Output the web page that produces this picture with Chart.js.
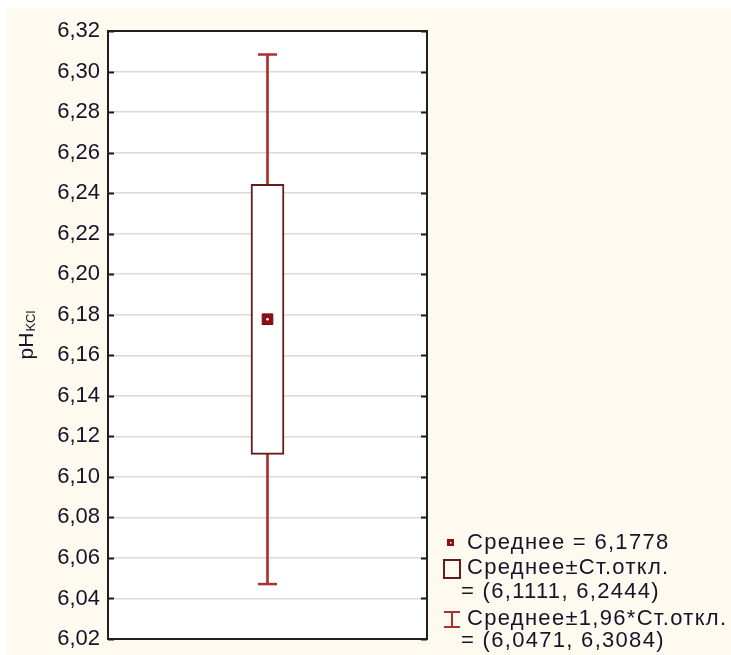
<!DOCTYPE html>
<html>
<head>
<meta charset="utf-8">
<script src="https://cdn.jsdelivr.net/npm/chart.js@4.4.1/dist/chart.umd.min.js"></script>
<style>
  html, body { margin: 0; padding: 0; background: #ffffff; }
  #wrap { width: 731px; height: 655px; position: relative; }
</style>
</head>
<body>
<div id="wrap"><canvas id="chart"></canvas></div>
<script>
// данные — pHKCl, среднее и интервалы
const categories = ['pHKCl'];
const means  = [6.1778];
const sdLow  = [6.1111];
const sdHigh = [6.2444];
const ciLow  = [6.0471];
const ciHigh = [6.3084];
const yMin = 6.02, yMax = 6.32, yStep = 0.02;

const FONT = '"Liberation Sans", Arial, sans-serif';
const fmt = (v, d) => v.toFixed(d).replace('.', ',');

const legendLines = [
    { icon: 'mean', text: `Среднее = ${fmt(means[0], 4)}` },
    { icon: 'box',  text: 'Среднее±Ст.откл.' },
    { icon: null,   text: `= (${fmt(sdLow[0], 4)}, ${fmt(sdHigh[0], 4)})` },
    { icon: 'ci',   text: 'Среднее±1,96*Ст.откл.' },
    { icon: null,   text: `= (${fmt(ciLow[0], 4)}, ${fmt(ciHigh[0], 4)})` }
];

const WHISKER = '#a8302f';
const BOXLINE = '#641b1b';
const MEAN    = '#8e0f0f';

// фон, рамка, внутренние засечки, подпись оси и легенда
const decor = {
    id: 'decor',
    beforeDraw(chart) {
        const ctx = chart.ctx;
        ctx.save();
        ctx.fillStyle = '#fffaf0';
        ctx.fillRect(6, 8, chart.width - 6, chart.height - 8);
        const a = chart.chartArea;
        ctx.fillStyle = '#ffffff';
        ctx.fillRect(a.left, a.top, a.right - a.left, a.bottom - a.top);
        ctx.restore();
    },
    afterDraw(chart) {
        const ctx = chart.ctx;
        const a = chart.chartArea;
        const y = chart.scales.y;
        ctx.save();
        // засечки внутрь
        ctx.strokeStyle = '#1a1a1a';
        ctx.lineWidth = 2;
        y.ticks.forEach(t => {
            const py = Math.round(y.getPixelForValue(t.value)) + 0.5;
            ctx.beginPath();
            ctx.moveTo(a.left, py); ctx.lineTo(a.left + 6, py);
            ctx.moveTo(a.right - 6, py); ctx.lineTo(a.right, py);
            ctx.stroke();
        });
        // рамка
        ctx.strokeStyle = '#1f1f1f';
        ctx.lineWidth = 2;
        ctx.strokeRect(a.left, a.top, a.right - a.left, a.bottom - a.top);

        // подпись оси Y: pH + KCl
        ctx.translate(33, (a.top + a.bottom) / 2);
        ctx.rotate(-Math.PI / 2);
        ctx.fillStyle = '#141428';
        ctx.textBaseline = 'alphabetic';
        ctx.font = `21px ${FONT}`;
        const w1 = ctx.measureText('pH').width;
        ctx.font = `13px ${FONT}`;
        const w2 = ctx.measureText('KCl').width;
        const x0 = -(w1 + w2 + 1) / 2;
        ctx.font = `21px ${FONT}`;
        ctx.fillText('pH', x0, 0);
        ctx.font = `13px ${FONT}`;
        ctx.fillText('KCl', x0 + w1 + 1, 2);
        ctx.setTransform(1, 0, 0, 1, 0, 0);
        ctx.restore();

        // легенда
        ctx.save();
        const rowY = [543, 568, 592, 619, 641];
        ctx.font = `22px ${FONT}`;
        ctx.letterSpacing = '1.3px';
        ctx.textBaseline = 'middle';
        legendLines.forEach((ln, i) => {
            const cy = rowY[i];
            ctx.fillStyle = '#141428';
            ctx.fillText(ln.text, ln.icon ? 467 : 461, cy);
            if (ln.icon === 'mean') {
                ctx.fillStyle = MEAN;
                ctx.fillRect(447, cy - 4, 7, 7);
                ctx.fillStyle = '#ffffff';
                ctx.fillRect(450, cy - 1, 1.5, 1.5);
            } else if (ln.icon === 'box') {
                ctx.strokeStyle = BOXLINE;
                ctx.lineWidth = 2;
                ctx.strokeRect(444, cy - 8, 16, 18);
            } else if (ln.icon === 'ci') {
                ctx.strokeStyle = WHISKER;
                ctx.lineWidth = 2;
                ctx.beginPath();
                ctx.moveTo(444, cy - 7); ctx.lineTo(460, cy - 7);
                ctx.moveTo(452, cy - 7); ctx.lineTo(452, cy + 8);
                ctx.moveTo(444, cy + 8); ctx.lineTo(460, cy + 8);
                ctx.stroke();
            }
        });
        ctx.restore();
    }
};

new Chart(document.getElementById('chart'), {
    type: 'bar',
    data: {
        labels: categories,
        datasets: [
            {   // среднее ± 1,96*ст.откл. — вертикальный ус
                type: 'bar',
                data: categories.map((c, i) => [ciLow[i], ciHigh[i]]),
                backgroundColor: WHISKER,
                borderWidth: 0,
                barThickness: 2,
                grouped: false,
                order: 3
            },
            {   // среднее ± ст.откл. — коробка
                type: 'bar',
                data: categories.map((c, i) => [sdLow[i], sdHigh[i]]),
                backgroundColor: '#ffffff',
                borderColor: BOXLINE,
                borderWidth: 2,
                borderSkipped: false,
                barThickness: 33,
                grouped: false,
                order: 2
            },
            {   // верхняя засечка уса
                type: 'line',
                data: ciHigh,
                showLine: false,
                pointStyle: 'line',
                pointRadius: 9.5,
                pointBorderWidth: 2.5,
                pointBorderColor: WHISKER,
                order: 1
            },
            {   // нижняя засечка уса
                type: 'line',
                data: ciLow,
                showLine: false,
                pointStyle: 'line',
                pointRadius: 9.5,
                pointBorderWidth: 2.5,
                pointBorderColor: WHISKER,
                order: 1
            },
            {   // среднее
                type: 'line',
                data: means,
                showLine: false,
                pointStyle: 'rect',
                pointRadius: 7.5,
                pointBorderWidth: 1,
                pointBackgroundColor: MEAN,
                pointBorderColor: '#6a0a0a',
                order: 0
            },
            {   // белая точка в центре
                type: 'line',
                data: means,
                showLine: false,
                pointStyle: 'circle',
                pointRadius: 1.3,
                pointBorderWidth: 0,
                pointBackgroundColor: '#ffffff',
                order: -1
            }
        ]
    },
    options: {
        responsive: true,
        maintainAspectRatio: false,
        animation: false,
        layout: { padding: { left: 0, right: 304, top: 31, bottom: 16 } },
        plugins: {
            legend: { display: false },
            tooltip: { enabled: false }
        },
        scales: {
            x: {
                display: false,
                offset: true
            },
            y: {
                min: yMin,
                max: yMax,
                border: { display: false },
                grid: { color: '#dadada', lineWidth: 1.5, drawTicks: false },
                ticks: {
                    stepSize: yStep,
                    padding: 8,
                    color: '#141428',
                    font: { family: FONT, size: 22 },
                    callback: (v) => fmt(v, 2)
                },
                afterFit(scale) {
                    scale.width = 108;
                    scale.paddingTop = 0;
                    scale.paddingBottom = 0;
                }
            }
        }
    },
    plugins: [decor]
});
</script>
</body>
</html>
